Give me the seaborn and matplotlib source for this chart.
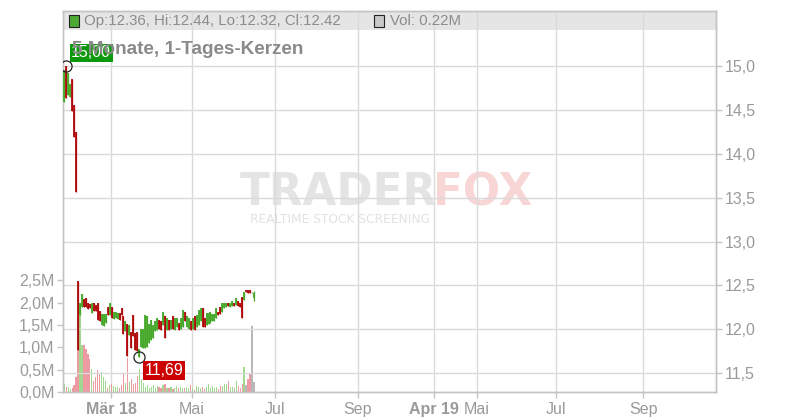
import numpy as np
import pandas as pd
import matplotlib
matplotlib.use("Agg")
import matplotlib.pyplot as plt
from matplotlib.patches import Rectangle
import seaborn as sns

# ---------------- data ----------------
opens = [14.59, 15.00, 14.67, 14.65, 14.85, 14.56, 14.25, 12.55, 12.16, 12.25,
         12.35, 12.36, 12.30, 12.29, 12.19, 12.30, 12.28, 12.30, 12.21, 12.05,
         12.04, 12.07, 12.26, 12.16, 12.25, 12.12, 12.13, 12.12, 12.19, 12.24,
         12.15, 11.98, 12.06, 11.94, 11.97, 12.16, 11.96, 11.97, 11.69, 11.80,
         11.79, 11.79, 11.80, 11.85, 11.88, 11.90, 11.98, 11.99, 12.11, 12.09,
         12.05, 12.15, 11.99, 12.11, 12.01, 12.15, 11.99, 12.03, 12.07, 12.01,
         12.03, 12.20, 12.03, 12.01, 12.09, 12.01, 12.15, 12.03, 12.05, 12.09,
         12.24, 12.13, 12.05, 12.06, 12.07, 12.09, 12.09, 12.13, 12.20, 12.26,
         12.20, 12.24, 12.26, 12.30, 12.26, 12.27, 12.30, 12.28, 12.32, 12.30,
         12.37, 12.33, 12.45, 12.45, 12.45, 12.42, 12.36]
highs = [14.95, 15.00, 14.92, 14.80, 14.85, 14.56, 14.25, 12.55, 12.30, 12.40,
         12.35, 12.36, 12.30, 12.29, 12.30, 12.30, 12.28, 12.30, 12.21, 12.18,
         12.17, 12.18, 12.26, 12.30, 12.25, 12.20, 12.20, 12.19, 12.19, 12.24,
         12.15, 12.09, 12.06, 12.05, 11.97, 12.16, 11.96, 11.97, 11.78, 12.01,
         12.01, 12.16, 12.15, 12.06, 12.11, 12.05, 12.09, 12.13, 12.11, 12.09,
         12.20, 12.15, 12.13, 12.11, 12.11, 12.15, 12.13, 12.13, 12.07, 12.13,
         12.22, 12.20, 12.15, 12.13, 12.09, 12.13, 12.15, 12.16, 12.22, 12.24,
         12.24, 12.13, 12.19, 12.19, 12.20, 12.18, 12.17, 12.24, 12.20, 12.26,
         12.30, 12.30, 12.30, 12.30, 12.30, 12.32, 12.30, 12.36, 12.32, 12.30,
         12.37, 12.43, 12.45, 12.45, 12.45, 12.43, 12.44]
lows = [14.59, 14.63, 14.67, 14.65, 14.49, 14.19, 13.56, 11.77, 12.16, 12.25,
        12.25, 12.26, 12.23, 12.24, 12.19, 12.21, 12.21, 12.11, 12.09, 12.05,
        12.04, 12.07, 12.16, 12.16, 12.13, 12.12, 12.13, 12.12, 12.11, 12.16,
        11.95, 11.98, 11.70, 11.94, 11.79, 11.92, 11.76, 11.75, 11.69, 11.80,
        11.79, 11.79, 11.80, 11.85, 11.88, 11.90, 11.98, 11.99, 12.01, 11.99,
        12.05, 11.90, 11.99, 11.99, 12.01, 12.01, 11.99, 12.03, 11.99, 12.01,
        12.03, 12.09, 12.03, 12.01, 11.99, 12.01, 11.99, 12.03, 12.05, 12.09,
        12.03, 12.03, 12.05, 12.06, 12.07, 12.09, 12.09, 12.13, 12.16, 12.18,
        12.20, 12.24, 12.26, 12.27, 12.26, 12.27, 12.27, 12.28, 12.27, 12.26,
        12.13, 12.33, 12.43, 12.42, 12.41, 12.41, 12.32]
closes = [14.95, 14.63, 14.92, 14.80, 14.49, 14.19, 13.56, 11.77, 12.30, 12.40,
          12.25, 12.26, 12.23, 12.24, 12.30, 12.21, 12.21, 12.11, 12.09, 12.18,
          12.17, 12.18, 12.16, 12.30, 12.13, 12.20, 12.20, 12.19, 12.11, 12.16,
          11.95, 12.09, 11.70, 12.05, 11.79, 11.92, 11.76, 11.75, 11.78, 12.01,
          12.01, 12.16, 12.15, 12.06, 12.11, 12.05, 12.09, 12.13, 12.01, 11.99,
          12.20, 11.90, 12.13, 11.99, 12.11, 12.01, 12.13, 12.13, 11.99, 12.13,
          12.22, 12.09, 12.15, 12.13, 11.99, 12.13, 11.99, 12.16, 12.22, 12.24,
          12.03, 12.03, 12.19, 12.19, 12.20, 12.18, 12.17, 12.24, 12.16, 12.18,
          12.30, 12.30, 12.30, 12.27, 12.30, 12.32, 12.27, 12.36, 12.27, 12.26,
          12.13, 12.43, 12.43, 12.42, 12.41, 12.42, 12.42]
volumes_m = [0.17, 0.12, 0.12, 0.07, 0.09, 0.16, 0.34, 0.94, 1.72, 1.05,
             1.05, 0.96, 0.84, 0.73, 0.51, 0.25, 0.34, 0.49, 0.40, 0.44,
             0.34, 0.25, 0.08, 0.16, 0.17, 0.14, 0.12, 0.12, 0.10, 0.15,
             0.42, 0.20, 0.75, 0.22, 0.30, 0.18, 0.20, 0.35, 0.52, 0.30,
             0.20, 0.12, 0.15, 0.10, 0.12, 0.16, 0.10, 0.14, 0.12, 0.08,
             0.15, 0.18, 0.10, 0.08, 0.12, 0.06, 0.10, 0.14, 0.08, 0.12,
             0.10, 0.08, 0.12, 0.10, 0.16, 0.10, 0.05, 0.13, 0.11, 0.08,
             0.12, 0.06, 0.11, 0.17, 0.08, 0.14, 0.08, 0.11, 0.06, 0.13,
             0.13, 0.19, 0.19, 0.25, 0.12, 0.12, 0.08, 0.25, 0.13, 0.10,
             0.19, 0.57, 0.16, 0.29, 0.43, 1.48, 0.22]
# bars drawn grey (unchanged) in the reference, 0-based
unchanged_volume_bars = [86, 92, 95, 96]

price_ticks = [11.5, 12.0, 12.5, 13.0, 13.5, 14.0, 14.5, 15.0]
volume_ticks = [0.0, 0.5, 1.0, 1.5, 2.0, 2.5]
# x axis is a trading-session index; tick positions in sessions
x_tick_pos = [23.7, 64.6, 106.6, 148.6, 187.0, 208.8, 248.7, 292.8]
x_tick_labels = ["Mär 18", "Mai", "Jul", "Sep", "Apr 19", "Mai", "Jul", "Sep"]
x_tick_bold = ["Mär 18", "Apr 19"]
title_text = "5 Monate, 1-Tages-Kerzen"

# ---------------- styling ----------------
GREEN = "#46a82a"
RED = "#b00b0b"
VOL_UP = "#9fd88e"
VOL_DOWN = "#ee9aa3"
VOL_FLAT = "#b8b8b8"
GRID = "#dadada"
SPINE = "#c4c4c4"
TXT = "#9a9a9a"

sns.set_theme(style="white")
plt.rcParams["font.family"] = ["Liberation Sans", "DejaVu Sans"]

n = len(opens)
assert len(highs) == n and len(lows) == n and len(closes) == n and len(volumes_m) == n
df = pd.DataFrame({
    "session": np.arange(n),
    "open": opens, "high": highs, "low": lows, "close": closes,
    "volume": volumes_m,
})
df["trend"] = np.where(df["close"] >= df["open"], "up", "down")
df.loc[df.index[unchanged_volume_bars], "trend"] = "flat"

fig = plt.figure(figsize=(8, 4.2), dpi=100)
ax_vol = fig.add_axes([63 / 800, 28 / 420, 653 / 800, 381 / 420])
ax = ax_vol.twinx()

# volume bars (seaborn histogram weighted by volume, one bin per session)
sns.histplot(data=df, x="session", weights="volume", hue="trend",
             hue_order=["up", "down", "flat"],
             palette={"up": VOL_UP, "down": VOL_DOWN, "flat": VOL_FLAT},
             discrete=True, shrink=0.6, multiple="layer", alpha=1,
             linewidth=0, antialiased=False, legend=False, ax=ax_vol, zorder=2)

# candles
cols = np.where(df["close"] >= df["open"], GREEN, RED)
ax.vlines(df["session"], df["low"], df["high"], colors=cols, lw=0.9, zorder=4)
ax.vlines(df["session"], df[["open", "close"]].min(axis=1),
          df[["open", "close"]].max(axis=1), colors=cols, lw=1.3, zorder=4)

# limits
xlim = (-0.6, 329.7)
ax_vol.set_xlim(*xlim)
ax.set_xlim(*xlim)
ax.set_ylim(11.287, 15.626)
ax_vol.set_ylim(0, 8.52)

# grid & ticks
ax.set_yticks(price_ticks)
ax.set_yticklabels([f"{v:.1f}".replace(".", ",") for v in price_ticks])
ax.grid(axis="y", color=GRID, lw=1, zorder=1)
ax.set_axisbelow(True)
ax_vol.set_xticks(x_tick_pos)
ax_vol.set_xticklabels(x_tick_labels)
ax_vol.grid(axis="x", color=GRID, lw=1)
ax_vol.grid(axis="y", visible=False)
ax_vol.set_axisbelow(True)
ax_vol.set_yticks(volume_ticks)
ax_vol.set_yticklabels([f"{v:.1f}M".replace(".", ",") for v in volume_ticks])
ax_vol.set_xlabel("")
ax_vol.set_ylabel("")
ax.set_ylabel("")

for lab in ax_vol.get_xticklabels():
    if lab.get_text() in x_tick_bold:
        lab.set_fontweight("bold")

ax.tick_params(axis="y", right=True, left=False, length=4, width=1, color=SPINE,
               labelcolor=TXT, labelsize=11.5, pad=2)
ax_vol.tick_params(axis="y", left=True, right=False, length=4, width=1, color=SPINE,
                   labelcolor=TXT, labelsize=11.5, pad=2)
ax_vol.tick_params(axis="x", bottom=True, length=4, width=1, color=SPINE,
                   labelcolor=TXT, labelsize=11.5, pad=3)
for a in (ax, ax_vol):
    for s in a.spines.values():
        s.set_visible(True)
        s.set_color(SPINE)
        s.set_linewidth(1)

# header band
band_h = 19 / 381
ax_vol.add_patch(Rectangle((0, 1 - band_h), 1, band_h, transform=ax_vol.transAxes,
                           facecolor="#e5e5e5", edgecolor="none", zorder=0.3))

# watermark
ax_vol.text(240 / 800, 1 - 205 / 420, "TRADER", transform=fig.transFigure,
            family="DejaVu Sans", fontweight="bold", fontsize=31.5, color="#e4e4e4",
            ha="left", va="baseline", zorder=0.2, clip_on=False)
ax_vol.text(433 / 800, 1 - 205 / 420, "FOX", transform=fig.transFigure,
            family="DejaVu Sans", fontweight="bold", fontsize=31.5, color="#f9d6d6",
            ha="left", va="baseline", zorder=0.2, clip_on=False)
ax_vol.text(250 / 800, 1 - 223 / 420, "REALTIME STOCK SCREENING", transform=fig.transFigure,
            family="DejaVu Sans", fontsize=8.8, color="#e2e2e2",
            ha="left", va="baseline", zorder=0.2, clip_on=False)

# header legend
last = df.iloc[-1]
ax.add_patch(Rectangle((69 / 800, 1 - 26.5 / 420), 10 / 800, 11 / 420,
                       transform=fig.transFigure, facecolor="#4caa34",
                       edgecolor="#222222", lw=0.8, zorder=8, clip_on=False))
ax.text(84 / 800, 1 - 21 / 420,
        f"Op:{last['open']:.2f}, Hi:{last['high']:.2f}, Lo:{last['low']:.2f}, Cl:{last['close']:.2f}",
        transform=fig.transFigure, fontsize=10.8, color="#8c8c8c",
        ha="left", va="center", zorder=8)
ax.add_patch(Rectangle((374 / 800, 1 - 26.5 / 420), 10 / 800, 11 / 420,
                       transform=fig.transFigure, facecolor="#c8c8c8",
                       edgecolor="#222222", lw=0.8, zorder=8, clip_on=False))
ax.text(390 / 800, 1 - 21 / 420, f"Vol: {last['volume']:.2f}M",
        transform=fig.transFigure, fontsize=10.8, color="#8c8c8c",
        ha="left", va="center", zorder=8)

# high / low markers
i_hi = df["high"].idxmax()
i_lo = df["low"].idxmin()
hi_x, hi_val = df.loc[i_hi, "session"], df.loc[i_hi, "high"]
lo_x, lo_val = df.loc[i_lo, "session"], df.loc[i_lo, "low"]
ax.plot([hi_x], [hi_val], "o", ms=8, mfc="none", mec="#222222", mew=0.9, zorder=9)
ax.plot([lo_x], [lo_val], "o", ms=8, mfc="none", mec="#222222", mew=0.9, zorder=9)
ax.annotate(f"{hi_val:.2f}".replace(".", ","), xy=(hi_x, hi_val), xytext=(18, 9.5),
            textcoords="offset points", ha="center", va="center", color="white",
            fontsize=11.5, zorder=9,
            bbox=dict(boxstyle="square,pad=0.1", fc="#0c980c", ec="none"))
ax.annotate(f"{lo_val:.2f}".replace(".", ","), xy=(lo_x, lo_val), xytext=(18, -10),
            textcoords="offset points", ha="center", va="center", color="white",
            fontsize=11.5, zorder=9,
            bbox=dict(boxstyle="square,pad=0.1", fc="#cc0000", ec="none"))

# title (drawn over the high label as in the reference)
ax.text(72 / 800, 1 - 54 / 420, title_text, transform=fig.transFigure,
        fontsize=13.6, fontweight="bold", color="#8a8a8a",
        ha="left", va="baseline", zorder=10)

fig.savefig("out.png", dpi=100)
